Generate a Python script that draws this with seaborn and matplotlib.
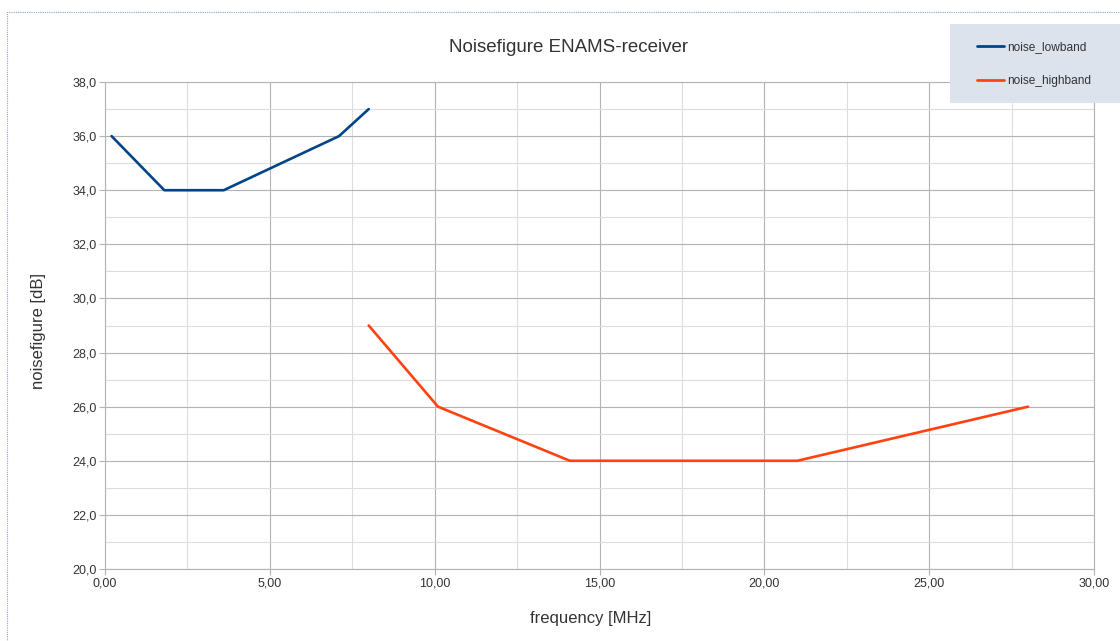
import matplotlib
matplotlib.use("Agg")
import matplotlib.pyplot as plt
import matplotlib.patches as mpatches
from matplotlib.ticker import MultipleLocator, FuncFormatter
import seaborn as sns
import pandas as pd

low_freq = [0.2, 1.8, 3.6, 7.1, 8.0]
low_nf = [36, 34, 34, 36, 37]
high_freq = [8.0, 10.1, 14.1, 21.0, 28.0]
high_nf = [29, 26, 24, 24, 26]
series_names = ["noise_lowband", "noise_highband"]
colors = ["#004586", "#ff420e"]

df = pd.concat([
    pd.DataFrame({"freq": low_freq, "nf": low_nf, "series": series_names[0]}),
    pd.DataFrame({"freq": high_freq, "nf": high_nf, "series": series_names[1]}),
])

sns.set_theme(style="white")
plt.rcParams["font.family"] = ["Liberation Sans", "DejaVu Sans"]

W, H = 1120, 641
fig = plt.figure(figsize=(W / 100, H / 100), dpi=100)
ax = fig.add_axes([105 / W, (H - 569) / H, 989 / W, 487 / H])

sns.lineplot(data=df, x="freq", y="nf", hue="series", palette=colors,
             linewidth=1.9, ax=ax, sort=False, legend=True)

ax.set_xlim(0, 30)
ax.set_ylim(20, 38)
ax.xaxis.set_major_locator(MultipleLocator(5))
ax.xaxis.set_minor_locator(MultipleLocator(2.5))
ax.yaxis.set_major_locator(MultipleLocator(2))
ax.yaxis.set_minor_locator(MultipleLocator(1))
ax.xaxis.set_major_formatter(FuncFormatter(lambda v, p: f"{v:.2f}".replace(".", ",")))
ax.yaxis.set_major_formatter(FuncFormatter(lambda v, p: f"{v:.1f}".replace(".", ",")))
ax.grid(which="major", color="#b3b3b3", linewidth=0.8)
ax.grid(which="minor", color="#dddddd", linewidth=0.8)
ax.set_axisbelow(True)
for s in ["left", "bottom", "right", "top"]:
    ax.spines[s].set_color("#b3b3b3")
    ax.spines[s].set_linewidth(0.8)
ax.tick_params(which="major", direction="out", length=4, width=0.8, color="#b3b3b3",
               labelsize=9, labelcolor="#333333", pad=2, left=True, bottom=True)
ax.tick_params(which="minor", length=0)

ax.set_xlabel("frequency [MHz]", fontsize=12, color="#333333")
ax.set_ylabel("noisefigure [dB]", fontsize=12, color="#333333")
ax.xaxis.set_label_coords((591 - 105) / 989, (569 - 618) / 487)
ax.yaxis.set_label_coords((38 - 105) / 989, (569 - 331) / 487)
ax.xaxis.label.set_va("center")
ax.yaxis.label.set_va("center")
fig.text(569 / W, 1 - 47 / H, "Noisefigure ENAMS-receiver", ha="center", va="center",
         fontsize=13.5, color="#333333")

# legend
fig.patches.append(mpatches.Rectangle((950 / W, 1 - 103 / H), 180 / W, 79 / H,
                                      transform=fig.transFigure, facecolor="#dde3ec",
                                      edgecolor="none", zorder=0))
handles, labels = ax.get_legend_handles_labels()
ax.legend_.remove()
leg = fig.legend(handles, labels, loc="upper left", bbox_to_anchor=(977 / W, 1 - 41 / H),
                 frameon=False, fontsize=8.6, handlelength=2.3, handletextpad=0.25,
                 labelspacing=1.83, borderpad=0, borderaxespad=0)
for line in leg.get_lines():
    line.set_linewidth(2.0)
for t in leg.get_texts():
    t.set_color("#333333")

# dotted outer border
fig.patches.append(mpatches.Rectangle((7 / W, -5 / H), 1130 / W, (H - 12 + 5) / H,
                                      transform=fig.transFigure, facecolor="none",
                                      edgecolor="#8fa8c8", linestyle=(0, (1, 1)),
                                      linewidth=0.8, zorder=0))

fig.savefig("out.png", dpi=100)
